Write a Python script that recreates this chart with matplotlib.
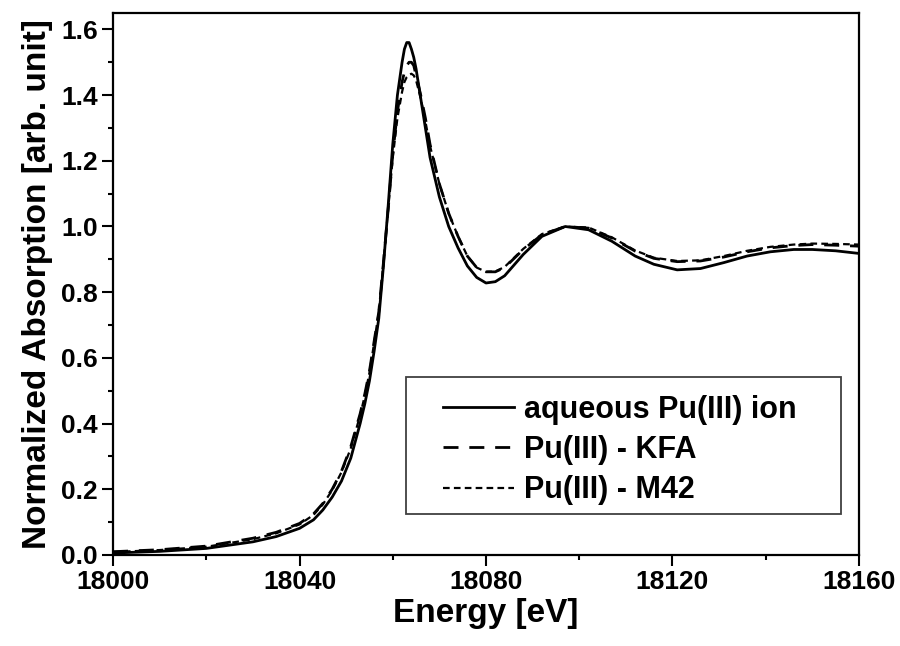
import matplotlib
matplotlib.use("Agg")
import matplotlib.pyplot as plt
from matplotlib.ticker import MultipleLocator
from matplotlib.patches import Rectangle

energy = [18000, 18010, 18020, 18030, 18035, 18040, 18043, 18045, 18047, 18049,
          18051, 18053, 18054, 18055, 18056, 18057, 18058, 18059, 18060, 18061,
          18062, 18062.5, 18063, 18063.5, 18064, 18064.5, 18065, 18066, 18067, 18068,
          18070, 18072, 18074, 18076, 18078, 18080, 18082, 18084, 18088, 18092,
          18097, 18102, 18107, 18112, 18116, 18121, 18126, 18131, 18136, 18141,
          18146, 18150, 18155, 18160]

aqueous = [0.006, 0.011, 0.020, 0.040, 0.056, 0.081, 0.107, 0.137, 0.176, 0.225,
           0.295, 0.40, 0.46, 0.53, 0.62, 0.72, 0.88, 1.06, 1.25, 1.40,
           1.50, 1.54, 1.56, 1.56, 1.54, 1.515, 1.48, 1.39, 1.30, 1.21,
           1.09, 1.00, 0.935, 0.88, 0.845, 0.828, 0.832, 0.85, 0.915, 0.97,
           1.0, 0.99, 0.955, 0.91, 0.885, 0.868, 0.872, 0.89, 0.91, 0.923,
           0.93, 0.93, 0.926, 0.918]

kfa = [0.010, 0.016, 0.027, 0.051, 0.069, 0.096, 0.125, 0.157, 0.20, 0.255,
       0.33, 0.43, 0.49, 0.56, 0.65, 0.74, 0.89, 1.05, 1.22, 1.35,
       1.44, 1.47, 1.49, 1.50, 1.50, 1.49, 1.46, 1.40, 1.33, 1.25,
       1.13, 1.04, 0.97, 0.91, 0.875, 0.862, 0.862, 0.875, 0.93, 0.975,
       1.0, 0.995, 0.965, 0.925, 0.903, 0.893, 0.895, 0.907, 0.923, 0.935,
       0.942, 0.945, 0.943, 0.94]

m42 = [0.009, 0.015, 0.025, 0.048, 0.066, 0.093, 0.122, 0.154, 0.197, 0.252,
       0.325, 0.425, 0.485, 0.555, 0.645, 0.74, 0.89, 1.05, 1.21, 1.33,
       1.41, 1.44, 1.455, 1.462, 1.465, 1.46, 1.445, 1.39, 1.32, 1.245,
       1.13, 1.04, 0.97, 0.91, 0.875, 0.862, 0.863, 0.877, 0.932, 0.977,
       1.0, 0.997, 0.967, 0.927, 0.905, 0.895, 0.897, 0.91, 0.926, 0.938,
       0.945, 0.948, 0.947, 0.945]

labels = ["aqueous Pu(III) ion", "Pu(III) - KFA", "Pu(III) - M42"]

plt.rcParams['font.family'] = ['Liberation Sans', 'DejaVu Sans']
plt.rcParams['font.weight'] = 'bold'

fig = plt.figure(figsize=(9, 6.46), dpi=100)
ax = fig.add_axes([0.1256, 0.1409, 0.8288, 0.839])

ax.plot(energy, aqueous, color='black', lw=2.0, label=labels[0])
ax.plot(energy, kfa, color='black', lw=2.0, dashes=(5.4, 3.9), label=labels[1])
ax.plot(energy, m42, color='black', lw=1.6, dashes=(3.0, 1.9), label=labels[2])

ax.set_xlim(18000, 18160)
ax.set_ylim(0, 1.65)
ax.xaxis.set_major_locator(MultipleLocator(40))
ax.xaxis.set_minor_locator(MultipleLocator(20))
ax.yaxis.set_major_locator(MultipleLocator(0.2))
ax.yaxis.set_minor_locator(MultipleLocator(0.1))
ax.yaxis.set_major_formatter(plt.FormatStrFormatter('%.1f'))

ax.tick_params(which='both', direction='out', top=False, right=False, width=1.5,
               labelsize=19)
ax.tick_params(which='major', length=8, pad=3)
ax.tick_params(which='minor', length=3.5)
for s in ax.spines.values():
    s.set_linewidth(1.6)

ax.set_xlabel('Energy [eV]', fontsize=24, fontweight='bold', labelpad=3)
ax.set_ylabel('Normalized Absorption [arb. unit]', fontsize=24, fontweight='bold',
              labelpad=6)

# legend box drawn separately so the padding can match the original
ax.add_patch(Rectangle((0.393, 0.0756), 0.583, 0.2524, transform=ax.transAxes,
                       fill=False, edgecolor='#404040', lw=1.3, zorder=5))
ax.legend(loc='upper left', bbox_to_anchor=(0.443, 0.295), frameon=False,
          handlelength=2.3, handletextpad=0.35, labelspacing=0.33,
          borderpad=0, borderaxespad=0, prop={'weight': 'bold', 'size': 22})

fig.savefig('out.png', dpi=100)
